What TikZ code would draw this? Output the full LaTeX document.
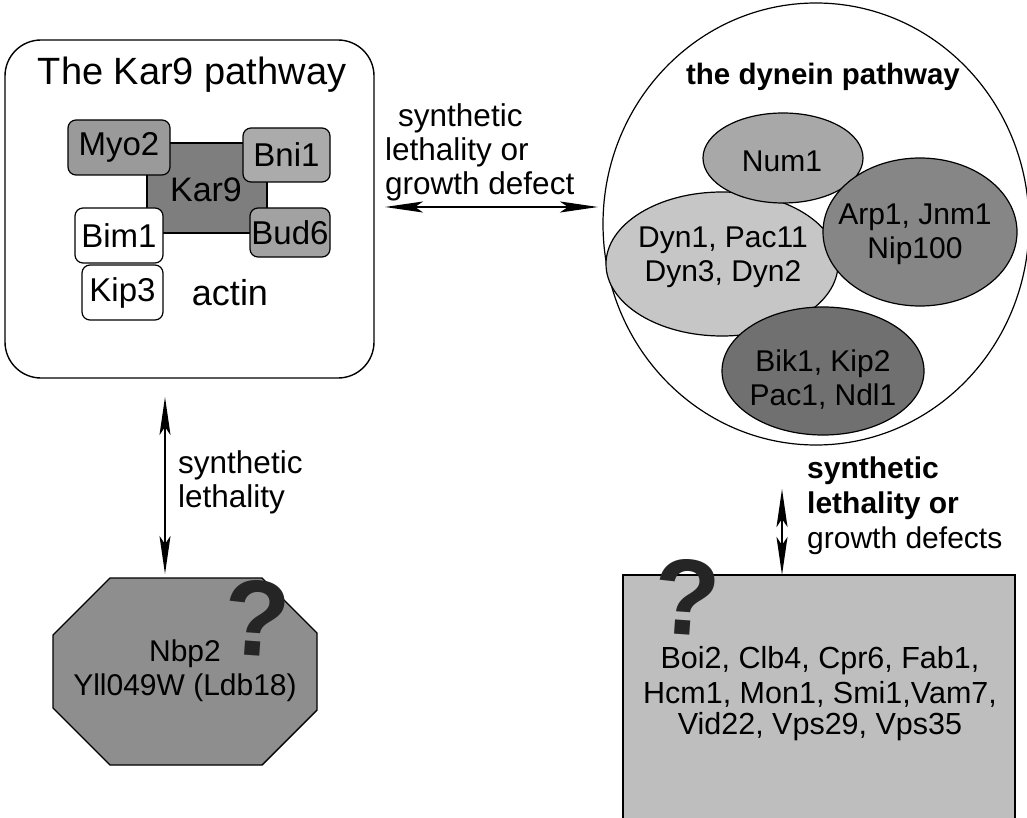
\documentclass[tikz,border=0pt]{standalone}
\usepackage{fontspec}
\setmainfont{Liberation Sans}
\usetikzlibrary{arrows.meta,shapes.geometric}
\definecolor{gA}{HTML}{9A9A9A}
\definecolor{gK}{HTML}{7E7E7E}
\definecolor{gB}{HTML}{ABABAB}
\definecolor{gD}{HTML}{A2A2A2}
\definecolor{gNum}{HTML}{A8A8A8}
\definecolor{gArp}{HTML}{868686}
\definecolor{gDyn}{HTML}{C6C6C6}
\definecolor{gBik}{HTML}{707070}
\definecolor{gOct}{HTML}{8E8E8E}
\definecolor{gRect}{HTML}{BEBEBE}
\definecolor{qm}{HTML}{252525}
\tikzset{
  txt/.style={font=\fontsize{30}{34}\selectfont, align=center, inner sep=0pt},
  lbl/.style={font=\fontsize{31.5}{34}\selectfont, align=left, inner sep=0pt, anchor=west},
  pbox/.style={draw, line width=1.2pt, rounded corners=8pt, inner sep=0pt, font=\fontsize{33}{36}\selectfont},
  blob/.style={draw, line width=1.2pt},
  dbl/.style={line width=2.4pt, {Stealth[length=38pt,width=11pt,inset=8pt]}-{Stealth[length=38pt,width=11pt,inset=8pt]}},
  quest/.style={font=\fontsize{108}{108}\selectfont\bfseries, text=qm, inner sep=0pt, text depth=0pt, text height=76pt}
}
\begin{document}
\begin{tikzpicture}[x=1pt,y=-1pt]
\useasboundingbox (0,0) rectangle (1027,818);
\clip (0,0) rectangle (1027,818);
\fill[white] (0,0) rectangle (1027,818);

% ---- Kar9 pathway box
\node[draw, line width=1.4pt, rounded corners=36pt, minimum width=369pt, minimum height=338pt] (kar) at (189.5,209) {};
\node[font=\fontsize{38}{40}\selectfont, inner sep=0pt] (kartitle) at (192,75) {The Kar9 pathway};
\node[draw, line width=1.2pt, fill=gK, minimum width=120pt, minimum height=90pt, inner sep=0pt] (kar9) at (207,188) {};
\node[pbox, fill=gA, minimum width=102pt, minimum height=55pt] (myo2) at (119,147.5) {Myo2};
\node[pbox, fill=gB, minimum width=87pt, minimum height=54pt] (bni1) at (286.5,155) {Bni1};
\node[pbox, fill=gD, minimum width=80pt, minimum height=49pt] (bud6) at (290,232.5) {Bud6};
\node[pbox, fill=white, minimum width=88pt, minimum height=55pt] (bim1) at (119,235.5) {Bim1};
\node[pbox, fill=white, minimum width=81pt, minimum height=55pt] (kip3) at (122.5,292.5) {Kip3};
\node[txt, font=\fontsize{34}{36}\selectfont] (kar9t) at (206,190) {Kar9};
\node[txt, font=\fontsize{36}{38}\selectfont] (actin) at (230,293) {actin};

% ---- dynein pathway
\node[draw, line width=1.2pt, ellipse, minimum width=426pt, minimum height=442pt, inner sep=0pt] (dyn) at (816,224) {};
\node[txt, font=\fontsize{29.5}{34}\selectfont\bfseries] (dyntitle) at (823,77) {the dynein pathway};
\draw[blob, fill=gDyn] (722,264) ellipse [x radius=116, y radius=72];
\draw[blob, fill=gNum] (783,158) ellipse [x radius=80, y radius=45];
\draw[blob, fill=gArp] (920,232) ellipse [x radius=97, y radius=74];
\draw[blob, fill=gBik] (823,371) ellipse [x radius=101, y radius=64];
\node[txt] (num1) at (782,161) {Num1};
\node[txt] (arp1) at (915,234) {Arp1, Jnm1\\Nip100};
\node[txt] (dyn1) at (723,257) {Dyn1, Pac11\\Dyn3, Dyn2};
\node[txt] (bik1) at (823,380) {Bik1, Kip2\\Pac1, Ndl1};

% ---- horizontal link
\node[lbl] (hl) at (385,152) {\hspace*{13pt}synthetic\\lethality or\\growth defect};
\coordinate (hA) at (385,207);
\coordinate (hB) at (598,207);
\draw[dbl] (hA) -- (hB);

% ---- octagon
\draw[line width=1.4pt, fill=gOct] (110,578) -- (262,578) -- (317,633) -- (317,710) -- (262,765) -- (110,765) -- (53,708) -- (53,635) -- cycle;
\coordinate (oct) at (165,574);
\node[quest, rotate=-4] (q1) at (257,618) {?};
\node[txt] (nbp) at (185,654) {Nbp2};
\node[txt] (yll) at (185,688) {Yll049W (Ldb18)};

% ---- left vertical link
\coordinate (vA) at (165,397);
\draw[dbl] (vA) -- (oct);
\node[lbl] (vl) at (178,482) {synthetic\\lethality};

% ---- right rectangle
\fill[gRect] (623,575) rectangle (1015,830);
\draw[line width=1.4pt] (623,830) -- (623,575) -- (1015,575) -- (1015,830);
\coordinate (rect) at (782,575);
\coordinate (rA) at (782,489);
\draw[dbl] (rA) -- (rect);
\node[lbl, font=\fontsize{30}{35}\selectfont] (rl) at (807,506) {\bfseries synthetic\\\bfseries lethality or\\growth defects};
\node[quest, rotate=-4] (q2) at (687,597) {?};
\node[txt, font=\fontsize{30.5}{33.5}\selectfont] (g1) at (820,661) {Boi2, Clb4, Cpr6, Fab1,};
\node[txt, font=\fontsize{30.5}{33.5}\selectfont] (g2) at (820,694) {Hcm1, Mon1, Smi1,Vam7,};
\node[txt, font=\fontsize{30.5}{33.5}\selectfont] (g3) at (820,727) {Vid22, Vps29, Vps35};
\end{tikzpicture}
\end{document}
